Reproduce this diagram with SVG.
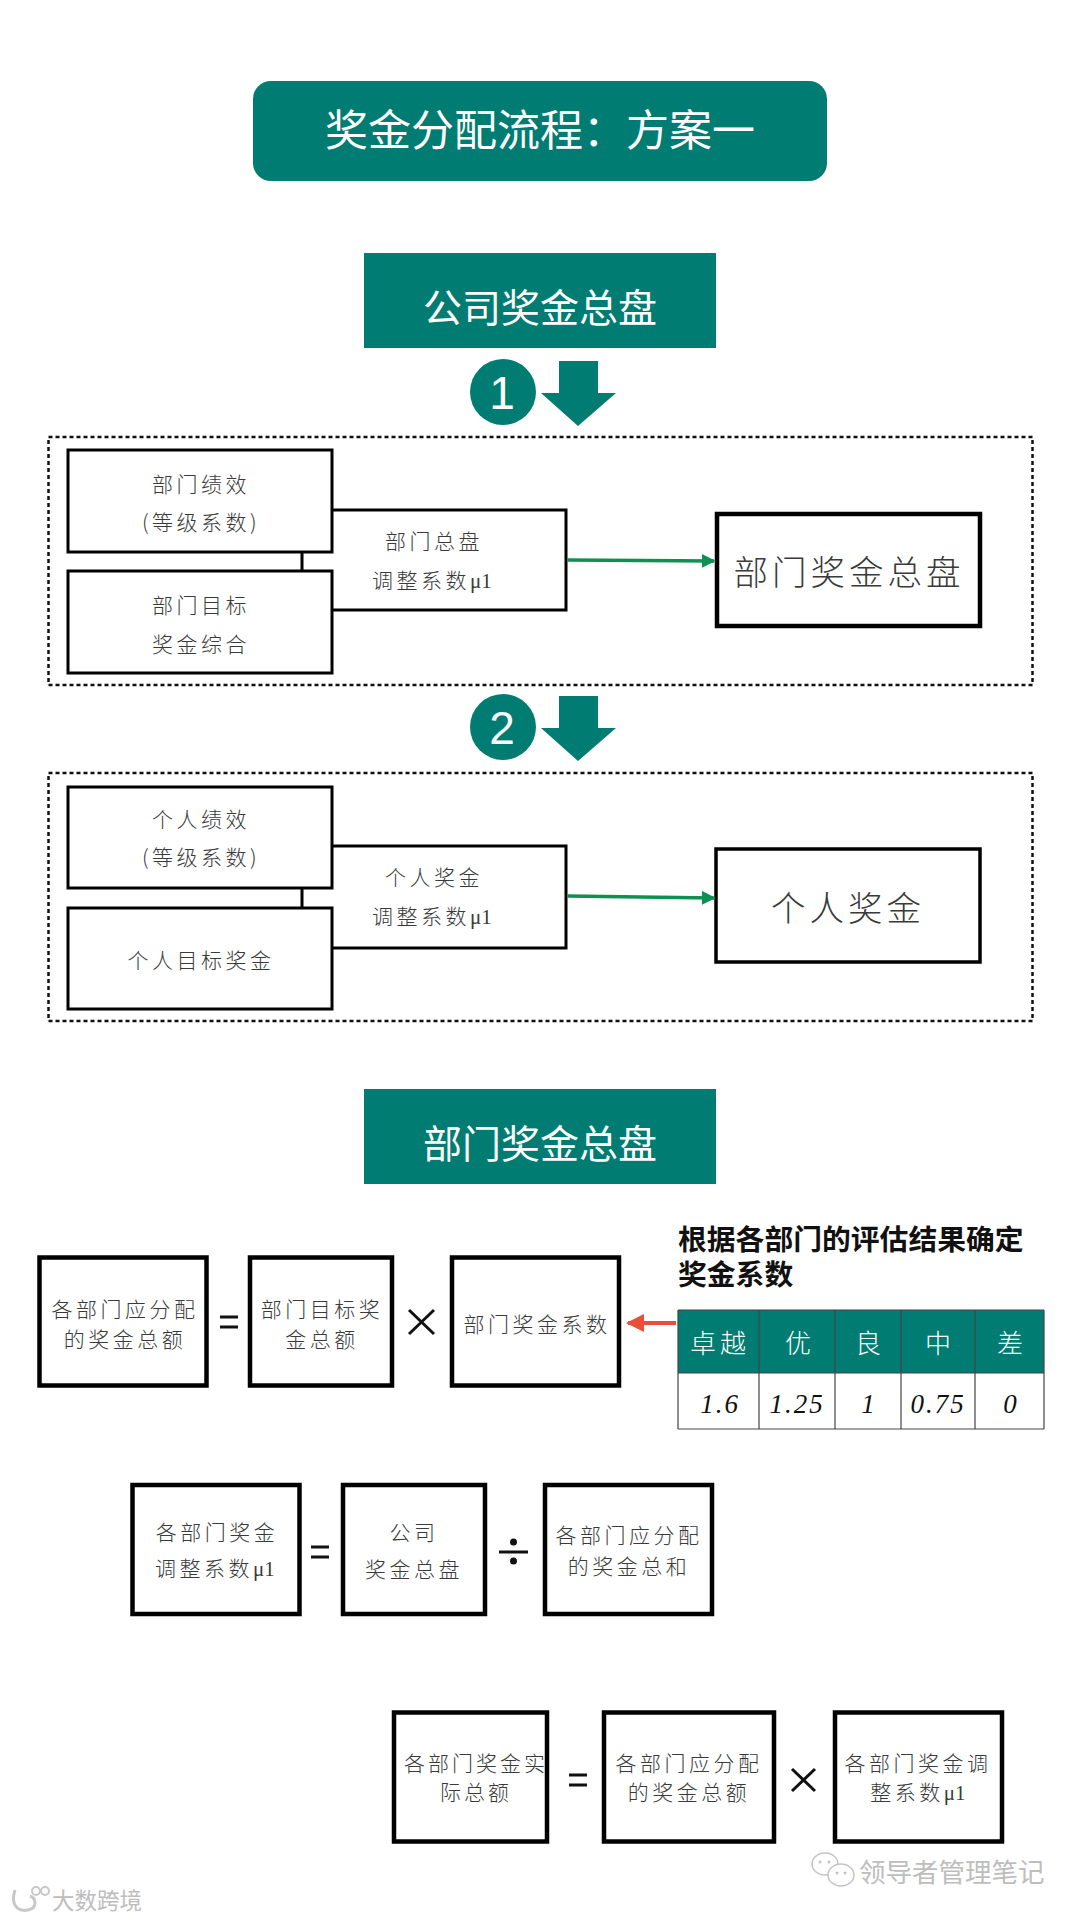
<svg xmlns="http://www.w3.org/2000/svg" width="1080" height="1920" viewBox="0 0 1080 1920">
<style>
text{font-family:"Noto Sans CJK SC","Noto Sans",sans-serif;text-anchor:middle;fill:#3a3a3a;font-weight:300}
.w{fill:#fff;font-weight:400}
.t{font-size:21px;letter-spacing:3.500px}
.b{fill:#fff;stroke:#000;stroke-width:3}
.k{fill:#fff;stroke:#000;stroke-width:4.500}
.g{fill:#007c72}
.m{font-family:"Liberation Serif",serif;letter-spacing:0}
.op{fill:none;stroke:#111;stroke-width:3}
.n{font-family:"Liberation Serif",serif;font-style:italic;font-size:27px;fill:#111;letter-spacing:2px}
.wm{fill:#bdbdbd;font-weight:400;text-anchor:start}
</style>
<defs>
<marker id="ag" markerWidth="4" markerHeight="4" refX="3.500" refY="2" orient="auto"><path d="M0 0L4 2L0 4Z" fill="#0c9150"/></marker>
<marker id="ar" markerWidth="4.500" markerHeight="4.500" refX="4" refY="2.250" orient="auto"><path d="M0 0L4.500 2.250L0 4.500Z" fill="#e8503a"/></marker>
<path id="down" class="g" d="M559 361H598V393H616L578 426L541 393H559Z"/>
</defs>
<rect width="1080" height="1920" fill="#fff"/>

<g id="title"><rect class="g" x="253" y="81" width="574" height="100" rx="18"/><text class="w" x="540" y="146" font-size="43" lang="zh-CN">奖金分配流程&#xFF1A;方案一</text></g>
<g id="header1"><rect class="g" x="364" y="253" width="352" height="95"/><text class="w" x="540" y="322" font-size="39">公司奖金总盘</text></g>

<g id="step1"><circle class="g" cx="503" cy="392" r="33"/><text class="w" x="502" y="409" font-size="46" style="font-family:'Liberation Sans',sans-serif">1</text><use href="#down"/></g>
<g id="frame1"><rect x="48.500" y="437" width="984" height="248" fill="none" stroke="#111" stroke-width="2.500" stroke-dasharray="4 3"/></g>
<g id="dept-adjust"><rect class="b" x="302" y="510" width="264" height="100"/><text class="t" x="434" y="549">部门总盘</text><text class="t" x="432" y="588">调整系数<tspan class="m">μ1</tspan></text></g>
<g id="dept-perf"><rect class="b" x="68" y="450" width="264" height="102"/><text class="t" x="201" y="492">部门绩效</text><text class="t" x="201" y="530">(等级系数)</text></g>
<g id="dept-target"><rect class="b" x="68" y="571" width="264" height="102"/><text class="t" x="201" y="613">部门目标</text><text class="t" x="201" y="652">奖金综合</text></g>
<g id="dept-total"><rect x="717" y="514" width="263" height="112" fill="#fff" stroke="#000" stroke-width="4.500"/><text x="849" y="585" font-size="34.500" letter-spacing="4">部门奖金总盘</text></g>

<g id="step2"><circle class="g" cx="503" cy="727" r="33"/><text class="w" x="502" y="744" font-size="46" style="font-family:'Liberation Sans',sans-serif">2</text><use href="#down" y="335"/></g>
<g id="frame2"><rect x="48.500" y="773" width="984" height="248" fill="none" stroke="#111" stroke-width="2.500" stroke-dasharray="4 3"/></g>
<g id="person-adjust"><rect class="b" x="302" y="846" width="264" height="102"/><text class="t" x="434" y="885">个人奖金</text><text class="t" x="432" y="924">调整系数<tspan class="m">μ1</tspan></text></g>
<g id="person-perf"><rect class="b" x="68" y="787" width="264" height="101"/><text class="t" x="201" y="827">个人绩效</text><text class="t" x="201" y="865">(等级系数)</text></g>
<g id="person-target"><rect class="b" x="68" y="908" width="264" height="101"/><text class="t" x="201" y="968">个人目标奖金</text></g>
<g id="person-total"><rect x="716" y="849" width="264" height="113" fill="#fff" stroke="#000" stroke-width="3.500"/><text x="848" y="921" font-size="34.500" letter-spacing="4">个人奖金</text></g>

<g id="connectors" fill="none">
<path d="M567 560L714 561" stroke="#0c9150" stroke-width="3.500" marker-end="url(#ag)"/>
<path d="M567 896L714 898" stroke="#0c9150" stroke-width="3.500" marker-end="url(#ag)"/>
<path d="M676 1323H628" stroke="#e8503a" stroke-width="4" marker-end="url(#ar)"/>
</g>

<g id="header2"><rect class="g" x="364" y="1089" width="352" height="95"/><text class="w" x="540" y="1158" font-size="39">部门奖金总盘</text></g>

<g id="f1a"><rect class="k" x="39.500" y="1257.500" width="167" height="128"/><text class="t" x="125" y="1317">各部门应分配</text><text class="t" x="125" y="1347">的奖金总额</text></g>
<g id="f1eq"><path class="op" d="M220 1317H238M220 1327H238" stroke-width="3.500"/></g>
<g id="f1b"><rect class="k" x="250" y="1257.500" width="142" height="128"/><text class="t" x="322" y="1317">部门目标奖</text><text class="t" x="322" y="1347">金总额</text></g>
<g id="f1x"><path class="op" d="M409 1310L434 1334M434 1310L409 1334"/></g>
<g id="f1c"><rect class="k" x="452" y="1257.500" width="167" height="128"/><text class="t" x="537" y="1332">部门奖金系数</text></g>

<g id="note"><text x="678" y="1250" font-size="28.800" style="text-anchor:start;font-weight:700;fill:#111">根据各部门的评估结果确定</text><text x="678" y="1285" font-size="28.800" style="text-anchor:start;font-weight:700;fill:#111">奖金系数</text></g>
<g id="grade-table">
<rect class="g" x="678" y="1310" width="366" height="63"/>
<path d="M678 1310H1044M678 1373H1044M678 1429H1044M678 1310V1429M759 1310V1429M835 1310V1429M901 1310V1429M975 1310V1429M1044 1310V1429" fill="none" stroke="#444" stroke-width="1.200"/>
<text class="w" x="720" y="1353" font-size="26" letter-spacing="4" style="font-weight:300">卓越</text><text class="w" x="798" y="1353" font-size="26" style="font-weight:300">优</text><text class="w" x="868" y="1353" font-size="26" style="font-weight:300">良</text><text class="w" x="938" y="1353" font-size="26" style="font-weight:300">中</text><text class="w" x="1010" y="1353" font-size="26" style="font-weight:300">差</text>
<text class="n" x="720" y="1413">1.6</text><text class="n" x="797" y="1413">1.25</text><text class="n" x="869" y="1413">1</text><text class="n" x="938" y="1413">0.75</text><text class="n" x="1011" y="1413">0</text>
</g>

<g id="f2a"><rect class="k" x="132.500" y="1485" width="167" height="129"/><text class="t" x="217" y="1540">各部门奖金</text><text class="t" x="215" y="1576">调整系数<tspan class="m">μ1</tspan></text></g>
<g id="f2eq"><path class="op" d="M311 1547H329M311 1557H329" stroke-width="3.500"/></g>
<g id="f2b"><rect class="k" x="343" y="1485" width="142" height="129"/><text class="t" x="414" y="1540">公司</text><text class="t" x="414" y="1577">奖金总盘</text></g>
<g id="f2d"><path class="op" d="M499 1552H528"/><circle cx="513.500" cy="1542" r="3.500" fill="#111"/><circle cx="513.500" cy="1561" r="3.500" fill="#111"/></g>
<g id="f2c"><rect class="k" x="545" y="1485" width="167" height="129"/><text class="t" x="629" y="1543">各部门应分配</text><text class="t" x="629" y="1574">的奖金总和</text></g>

<g id="f3a"><rect class="k" x="394" y="1712.500" width="153" height="129"/><text class="t" x="476" y="1771" style="letter-spacing:3px">各部门奖金实</text><text class="t" x="476" y="1800" style="letter-spacing:3px">际总额</text></g>
<g id="f3eq"><path class="op" d="M569 1775H587M569 1785H587" stroke-width="3.500"/></g>
<g id="f3b"><rect class="k" x="604" y="1712.500" width="170" height="129"/><text class="t" x="689" y="1771">各部门应分配</text><text class="t" x="689" y="1800">的奖金总额</text></g>
<g id="f3x"><path class="op" d="M792 1769L815 1791M815 1769L792 1791"/></g>
<g id="f3c"><rect class="k" x="835" y="1712.500" width="167" height="129"/><text class="t" x="918" y="1771">各部门奖金调</text><text class="t" x="918" y="1800">整系数<tspan class="m">μ1</tspan></text></g>

<g id="watermark-right"><ellipse cx="825" cy="1864" rx="13" ry="11" fill="none" stroke="#c4c4c4" stroke-width="1.500"/><ellipse cx="841" cy="1875" rx="13" ry="11" fill="#fff" stroke="#c4c4c4" stroke-width="1.500"/><circle cx="820" cy="1862" r="1.500" fill="#c4c4c4"/><circle cx="829" cy="1862" r="1.500" fill="#c4c4c4"/><circle cx="837" cy="1873" r="1.500" fill="#c4c4c4"/><circle cx="845" cy="1873" r="1.500" fill="#c4c4c4"/><text class="wm" x="859" y="1882" font-size="26.500">领导者管理笔记</text></g>
<g id="watermark-left"><path d="M15 1890C10 1905 18 1912 28 1910C38 1908 36 1898 30 1896" fill="none" stroke="#c8c8c8" stroke-width="3"/><circle cx="36" cy="1891" r="4" fill="none" stroke="#c8c8c8" stroke-width="2"/><circle cx="45" cy="1891" r="4" fill="none" stroke="#c8c8c8" stroke-width="2"/><text class="wm" x="52" y="1909" font-size="22.500">大数跨境</text></g>
</svg>
